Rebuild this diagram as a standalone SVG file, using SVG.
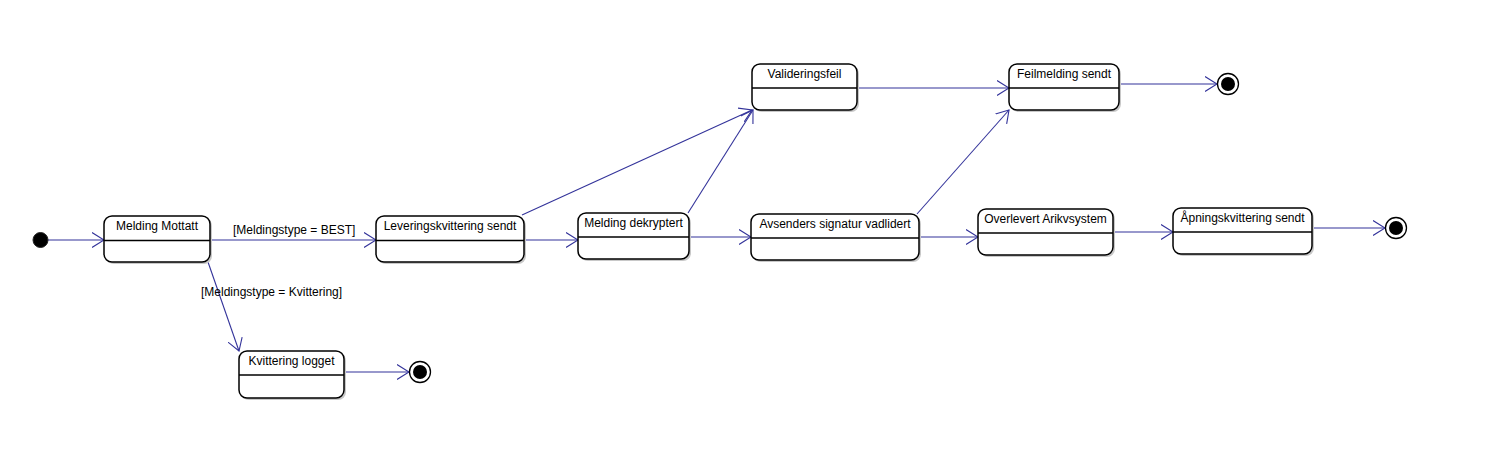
<svg xmlns="http://www.w3.org/2000/svg" width="1502" height="460" viewBox="0 0 1502 460">
<defs>
<style>
.box{fill:#fff;stroke:#000;stroke-width:1.5}
.shadow{fill:#c8c8c8}
.div{stroke:#000;stroke-width:1.3}
.t{font-family:"Liberation Sans",Arial,sans-serif;font-size:12px;fill:#000;text-anchor:middle}
.lbl{font-family:"Liberation Sans",Arial,sans-serif;font-size:12px;fill:#000}
.c{stroke:#33339a;stroke-width:1.1;fill:none;marker-end:url(#arr)}
</style>
<marker id="arr" viewBox="0 0 13 16" refX="12" refY="8" markerWidth="13" markerHeight="16" markerUnits="userSpaceOnUse" orient="auto">
<path d="M0,0.5 L12,8 L0,15.5" fill="none" stroke="#33339a" stroke-width="1.1"/>
</marker>
</defs>
<rect width="1502" height="460" fill="#fff"/>
<g id="connectors">
<line class="c" x1="48" y1="240" x2="104" y2="240"/>
<line class="c" x1="210" y1="240" x2="376" y2="240"/>
<line class="c" x1="208" y1="262" x2="239" y2="351"/>
<line class="c" x1="524" y1="240" x2="578" y2="240"/>
<line class="c" x1="522" y1="215" x2="752" y2="110"/>
<line class="c" x1="689" y1="237" x2="751" y2="237"/>
<line class="c" x1="688" y1="213" x2="753" y2="110"/>
<line class="c" x1="857" y1="88" x2="1009" y2="88"/>
<line class="c" x1="917" y1="214" x2="1009" y2="110"/>
<line class="c" x1="919" y1="237" x2="978" y2="237"/>
<line class="c" x1="1113" y1="232" x2="1173" y2="232"/>
<line class="c" x1="1119" y1="84" x2="1217" y2="84"/>
<line class="c" x1="1312" y1="228" x2="1385" y2="228"/>
<line class="c" x1="344" y1="372" x2="409" y2="372"/>
<text class="lbl" x="233" y="234">[Meldingstype = BEST]</text>
<text class="lbl" x="201" y="296">[Meldingstype = Kvittering]</text>
</g>
<g id="initial"><circle cx="40.5" cy="240" r="7.5" fill="#000" stroke="#222" stroke-width="1"/></g>
<g id="final1"><circle cx="1228" cy="84" r="10.5" fill="#fff" stroke="#000" stroke-width="1.3"/><circle cx="1228" cy="84" r="7" fill="#000"/></g>
<g id="final2"><circle cx="1396" cy="228" r="10.5" fill="#fff" stroke="#000" stroke-width="1.3"/><circle cx="1396" cy="228" r="7" fill="#000"/></g>
<g id="final3"><circle cx="420" cy="372" r="10.5" fill="#fff" stroke="#000" stroke-width="1.3"/><circle cx="420" cy="372" r="7" fill="#000"/></g>
<g id="meldingMottatt">
<rect class="shadow" x="106" y="218" width="106" height="46" rx="8"/>
<rect class="box" x="104" y="216" width="106" height="46" rx="8"/>
<line class="div" x1="104" y1="240.5" x2="210" y2="240.5"/>
<text class="t" x="157" y="230">Melding Mottatt</text>
</g>
<g id="leveringskvittering">
<rect class="shadow" x="378" y="218" width="148" height="46" rx="8"/>
<rect class="box" x="376" y="216" width="148" height="46" rx="8"/>
<line class="div" x1="376" y1="240.5" x2="524" y2="240.5"/>
<text class="t" x="450" y="230">Leveringskvittering sendt</text>
</g>
<g id="meldingDekryptert">
<rect class="shadow" x="580" y="215" width="111" height="46" rx="8"/>
<rect class="box" x="578" y="213" width="111" height="46" rx="8"/>
<line class="div" x1="578" y1="237" x2="689" y2="237"/>
<text class="t" x="633.5" y="227">Melding dekryptert</text>
</g>
<g id="avsenders">
<rect class="shadow" x="753" y="216" width="168" height="46" rx="8"/>
<rect class="box" x="751" y="214" width="168" height="46" rx="8"/>
<line class="div" x1="751" y1="238" x2="919" y2="238"/>
<text class="t" x="835" y="228">Avsenders signatur vadlidert</text>
</g>
<g id="valideringsfeil">
<rect class="shadow" x="754" y="66" width="105" height="46" rx="8"/>
<rect class="box" x="752" y="64" width="105" height="46" rx="8"/>
<line class="div" x1="752" y1="88" x2="857" y2="88"/>
<text class="t" x="804.5" y="78">Valideringsfeil</text>
</g>
<g id="feilmelding">
<rect class="shadow" x="1011" y="66" width="110" height="46" rx="8"/>
<rect class="box" x="1009" y="64" width="110" height="46" rx="8"/>
<line class="div" x1="1009" y1="88" x2="1119" y2="88"/>
<text class="t" x="1064" y="78">Feilmelding sendt</text>
</g>
<g id="overlevert">
<rect class="shadow" x="980" y="211" width="135" height="46" rx="8"/>
<rect class="box" x="978" y="209" width="135" height="46" rx="8"/>
<line class="div" x1="978" y1="233" x2="1113" y2="233"/>
<text class="t" x="1045.5" y="223">Overlevert Arikvsystem</text>
</g>
<g id="apning">
<rect class="shadow" x="1175" y="210" width="139" height="46" rx="8"/>
<rect class="box" x="1173" y="208" width="139" height="46" rx="8"/>
<line class="div" x1="1173" y1="232" x2="1312" y2="232"/>
<text class="t" x="1242.5" y="222">Åpningskvittering sendt</text>
</g>
<g id="kvitteringLogget">
<rect class="shadow" x="241" y="353" width="105" height="47" rx="8"/>
<rect class="box" x="239" y="351" width="105" height="47" rx="8"/>
<line class="div" x1="239" y1="375" x2="344" y2="375"/>
<text class="t" x="291.5" y="365">Kvittering logget</text>
</g>
</svg>
